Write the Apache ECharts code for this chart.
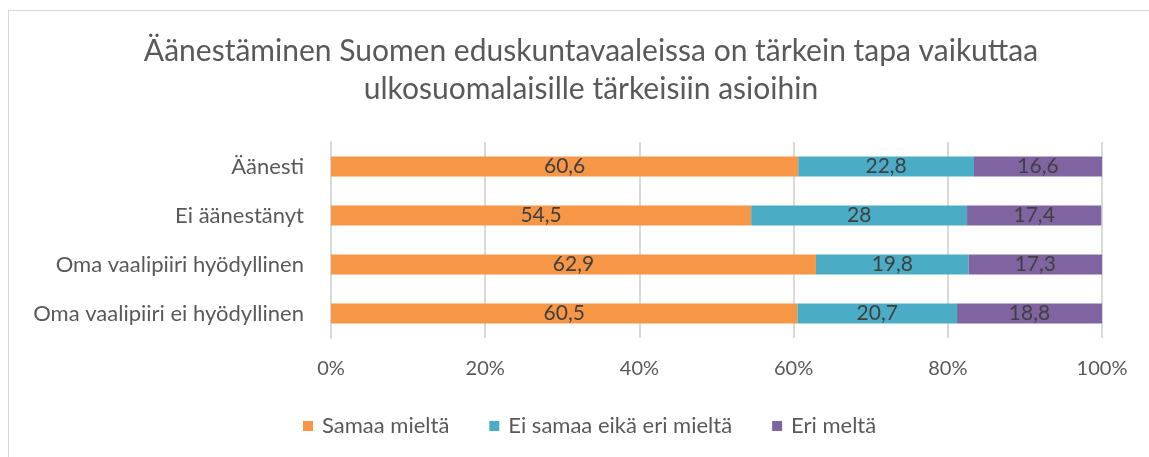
<!DOCTYPE html>
<html>
<head>
<meta charset="utf-8">
<script src="https://cdn.jsdelivr.net/npm/echarts@6/dist/echarts.min.js"></script>
<style>
  html, body { margin: 0; padding: 0; background: #fff; overflow: hidden; }
  #frame { position: absolute; left: 8px; top: 10px; width: 1160px; height: 470px; border: 1px solid #d9d9d9; box-sizing: border-box; }
  #chart { position: absolute; left: 0; top: 0; width: 1149px; height: 457px; }
</style>
</head>
<body>
<div id="frame"></div>
<div id="chart"></div>
<script>
  // kategoriat ja sarjat
  const categories = ['Äänesti', 'Ei äänestänyt', 'Oma vaalipiiri hyödyllinen', 'Oma vaalipiiri ei hyödyllinen']
  const samaa = [60.6, 54.5, 62.9, 60.5]
  const eiSamaa = [22.8, 28, 19.8, 20.7]
  const eri = [16.6, 17.4, 17.3, 18.8]
  const seriesNames = ['Samaa mieltä', 'Ei samaa eikä eri mieltä', 'Eri meltä']
  const colors = ['#F79646', '#4BACC6', '#8064A2']

  const font = 'Lato, "Open Sans", sans-serif'
  const chart = echarts.init(document.getElementById('chart'))

  const label = {
    show: true,
    position: 'inside',
    color: '#404040',
    fontSize: 21,
    fontFamily: font,
    formatter: p => String(p.value).replace('.', ',')
  }

  const mk = (name, data, i) => ({
    name: name,
    type: 'bar',
    stack: 'all',
    barWidth: 20,
    data: data,
    itemStyle: {color: colors[i]},
    label: label,
    emphasis: {disabled: true}
  })

  chart.setOption({
    animation: false,
    title: {
      text: 'Äänestäminen Suomen eduskuntavaaleissa on tärkein tapa vaikuttaa\nulkosuomalaisille tärkeisiin asioihin',
      left: 586,
      textAlign: 'center',
      top: 27,
      textStyle: {color: '#595959', fontSize: 30, fontWeight: 'normal', fontFamily: font, lineHeight: 38}
    },
    legend: {
      bottom: 15,
      left: 298,
      itemWidth: 10,
      itemHeight: 10,
      itemGap: 40,
      icon: 'rect',
      textStyle: {color: '#595959', fontSize: 22, fontFamily: font, padding: [0, 0, 0, 4]},
      data: seriesNames
    },
    grid: {left: 331, right: 47, top: 142, bottom: 119},
    xAxis: {
      type: 'value',
      min: 0,
      max: 100,
      interval: 20,
      axisLabel: {formatter: '{value}%', color: '#595959', fontSize: 20, fontFamily: font, margin: 21},
      splitLine: {lineStyle: {color: '#d9d9d9', width: 2}},
      axisLine: {show: false},
      axisTick: {show: false}
    },
    yAxis: {
      type: 'category',
      inverse: true,
      data: categories,
      axisLine: {show: true, lineStyle: {color: '#d9d9d9', width: 2}},
      axisTick: {show: false},
      axisLabel: {color: '#595959', fontSize: 22, fontFamily: font, margin: 27}
    },
    series: [mk(seriesNames[0], samaa, 0), mk(seriesNames[1], eiSamaa, 1), mk(seriesNames[2], eri, 2)]
  })
</script>
</body>
</html>
